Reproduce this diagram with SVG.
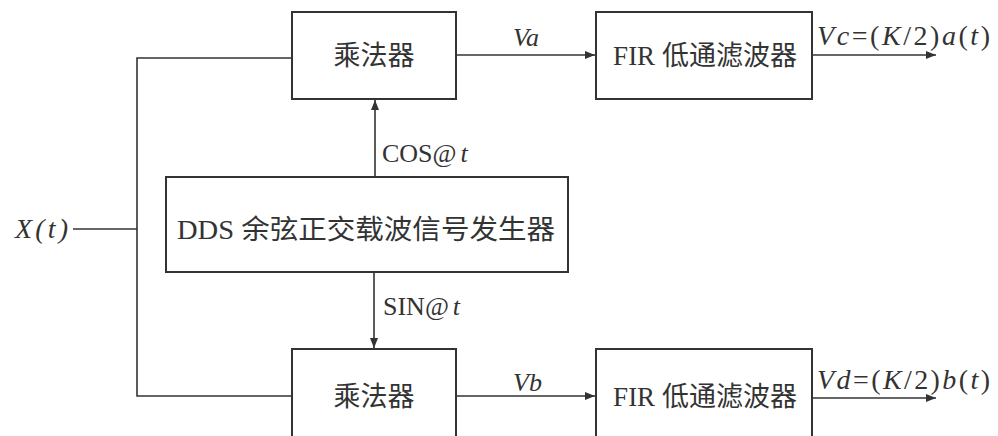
<svg xmlns="http://www.w3.org/2000/svg" width="998" height="436" viewBox="0 0 998 436">
  <style>
    .box { fill: #fff; stroke: #333; stroke-width: 2; }
    .wire { fill: none; stroke: #333; stroke-width: 1.6; }
    .lbl { font-family: "Liberation Serif", "Noto Sans CJK SC", serif; fill: #333; }
    .blk { font-size: 27px; text-anchor: middle; }
    .sig { font-size: 26px; }
    .eq { font-size: 28px; }
    .it { font-style: italic; }
  </style>
  <defs>
    <marker id="ah" viewBox="0 0 10 8" refX="10" refY="4" markerWidth="10" markerHeight="8" markerUnits="userSpaceOnUse" orient="auto">
      <path d="M0,0 L10,4 L0,8 Z" fill="#333"/>
    </marker>
  </defs>
  <rect width="998" height="436" fill="#fff"/>

  <g id="connectors">
    <!-- input X(t) split to both multipliers -->
    <path class="wire" d="M73,229 H137"/>
    <path class="wire" d="M292,58 H137 V396 H292"/>
    <!-- carriers from DDS -->
    <path class="wire" d="M375,177 V100" marker-end="url(#ah)"/>
    <path class="wire" d="M374,272 V348" marker-end="url(#ah)"/>
    <!-- multiplier to filter -->
    <path class="wire" d="M456,55 H595" marker-end="url(#ah)"/>
    <path class="wire" d="M456,396 H595" marker-end="url(#ah)"/>
    <!-- filter outputs -->
    <path class="wire" d="M812,55 H936" marker-end="url(#ah)"/>
    <path class="wire" d="M812,398 H936" marker-end="url(#ah)"/>
  </g>

  <g id="mul-top">
    <rect class="box" x="292" y="12" width="164" height="87"/>
    <text class="lbl blk" x="374" y="65">乘法器</text>
  </g>
  <g id="fir-top">
    <rect class="box" x="596" y="12" width="216" height="87"/>
    <text class="lbl blk" x="705" y="65">FIR 低通滤波器</text>
  </g>
  <g id="dds">
    <rect class="box" x="166" y="177" width="402" height="95"/>
    <text class="lbl blk" x="366" y="239" textLength="378" lengthAdjust="spacingAndGlyphs">DDS 余弦正交载波信号发生器</text>
  </g>
  <g id="mul-bottom">
    <rect class="box" x="292" y="349" width="164" height="92"/>
    <text class="lbl blk" x="374" y="406">乘法器</text>
  </g>
  <g id="fir-bottom">
    <rect class="box" x="596" y="349" width="216" height="92"/>
    <text class="lbl blk" x="705" y="406">FIR 低通滤波器</text>
  </g>

  <g id="labels">
    <text class="lbl eq it" x="15" y="238" textLength="53">X(t)</text>
    <text class="lbl sig" x="382" y="162">COS@<tspan class="it" dx="4">t</tspan></text>
    <text class="lbl sig" x="383" y="315">SIN@<tspan class="it" dx="4">t</tspan></text>
    <text class="lbl sig it" x="513" y="46">Va</text>
    <text class="lbl sig it" x="513" y="391">Vb</text>
    <text class="lbl eq" x="817" y="45" textLength="173"><tspan class="it">Vc</tspan>=(<tspan class="it">K</tspan>/2)<tspan class="it">a</tspan>(<tspan class="it">t</tspan>)</text>
    <text class="lbl eq" x="817" y="389" textLength="173"><tspan class="it">Vd</tspan>=(<tspan class="it">K</tspan>/2)<tspan class="it">b</tspan>(<tspan class="it">t</tspan>)</text>
  </g>
</svg>
